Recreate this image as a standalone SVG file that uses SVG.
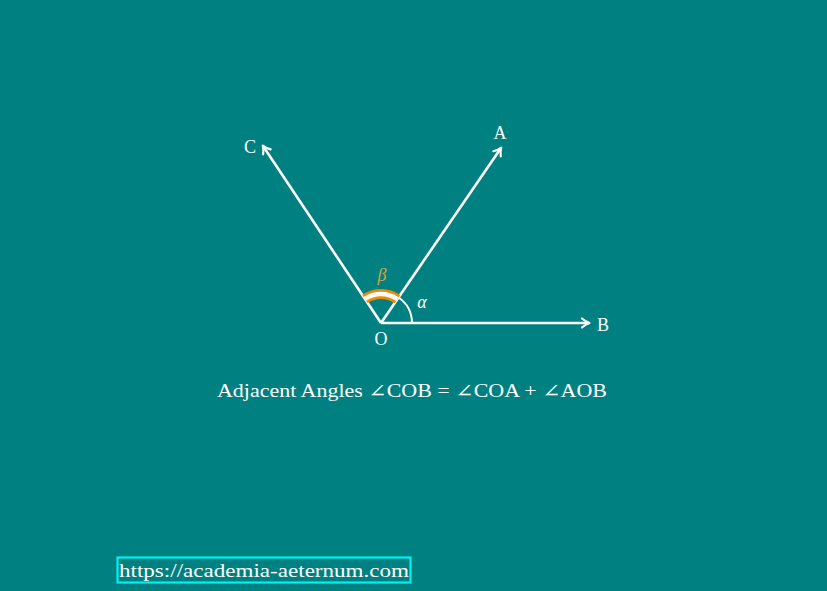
<svg xmlns="http://www.w3.org/2000/svg" width="827" height="591" viewBox="0 0 827 591">
<style>
.ray{stroke:#fff;stroke-width:2.6;fill:none;marker-end:url(#ah)}
.lbl{font-family:"Liberation Serif","DejaVu Serif",serif;font-size:18px;fill:#fff;text-anchor:middle}
.it{font-style:italic}
</style>
<defs>
<marker id="ah" markerUnits="userSpaceOnUse" markerWidth="14" markerHeight="14" refX="11" refY="7" orient="auto" viewBox="0 0 14 14">
<path d="M4,2.5 Q8,6 11.5,7 Q8,8 4,11.5" fill="none" stroke="#fff" stroke-width="2.2" stroke-linecap="round" stroke-linejoin="round"/>
</marker>
</defs>
<rect width="827" height="591" fill="#008080"/>
<g id="connectors">
<line class="ray" x1="381" y1="323" x2="589" y2="323"/>
<line class="ray" x1="381" y1="323" x2="501" y2="148"/>
<line class="ray" x1="381" y1="323" x2="263" y2="146"/>
</g>
<g id="angle-beta">
<path d="M397.4,299.1 A29,29 0 0 0 364.9,298.9" fill="none" stroke="#f08a00" stroke-width="10"/>
<path d="M397.4,299.1 A29,29 0 0 0 364.9,298.9" fill="none" stroke="#fff" stroke-width="4.5"/>
<text class="lbl it" x="382" y="281" style="fill:#d4a040">β</text>
</g>
<g id="angle-alpha">
<path d="M412,323 A31,31 0 0 0 398.5,297.5" fill="none" stroke="#fff" stroke-width="2"/>
<text class="lbl it" x="422" y="308">α</text>
</g>
<g id="node-O"><text class="lbl" x="381" y="345">O</text></g>
<g id="node-A"><text class="lbl" x="500" y="139">A</text></g>
<g id="node-B"><text class="lbl" x="603" y="331">B</text></g>
<g id="node-C"><text class="lbl" x="250" y="153">C</text></g>
<g id="caption"><text class="lbl" x="412" y="397" textLength="390" lengthAdjust="spacingAndGlyphs">Adjacent Angles ∠COB = ∠COA + ∠AOB</text></g>
<g id="link">
<rect x="117.5" y="557.5" width="293" height="25" fill="none" stroke="#00f0f0" stroke-width="2.2"/>
<text class="lbl" x="264" y="577" textLength="290" lengthAdjust="spacingAndGlyphs">https://academia-aeternum.com</text>
</g>
</svg>
